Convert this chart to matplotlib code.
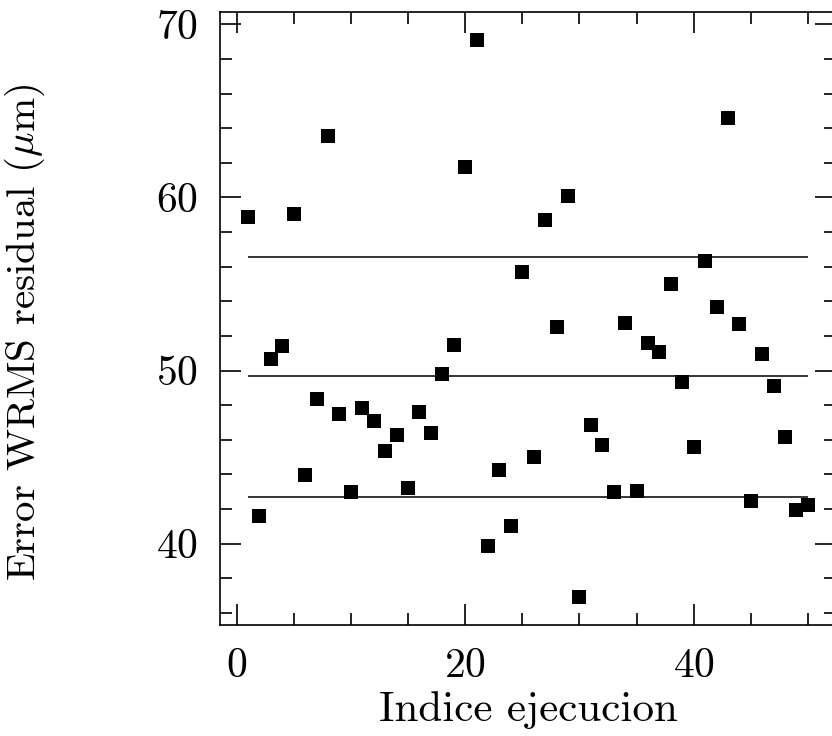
import matplotlib

matplotlib.use("Agg")
import matplotlib.pyplot as plt
from matplotlib.ticker import MultipleLocator

# run index and WRMS residual error per run
run_index = list(range(1, 51))
wrms_error = [
    58.86, 41.59, 50.64, 51.39, 59.07, 43.96, 48.37, 63.53, 47.50, 43.01,
    47.85, 47.08, 45.35, 46.27, 43.21, 47.62, 46.42, 49.79, 51.50, 61.76,
    69.11, 39.88, 44.27, 41.00, 55.67, 45.02, 58.70, 52.50, 60.09, 36.90,
    46.88, 45.69, 43.01, 52.76, 43.05, 51.60, 51.06, 55.02, 49.33, 45.59,
    56.33, 53.66, 64.61, 52.68, 42.48, 50.95, 49.13, 46.15, 41.94, 42.26,
]
# mean and +/- 1 sigma reference lines
ref_levels = [42.69, 49.68, 56.55]
ref_span = (1, 50)

plt.rcParams["font.family"] = ["cmr10", "DejaVu Serif"]
plt.rcParams["mathtext.fontset"] = "cm"
plt.rcParams["axes.formatter.use_mathtext"] = True

fig = plt.figure(figsize=(8.32, 7.36), dpi=100)
ax = fig.add_axes([0.2644, 0.1508, 0.741, 0.8329])

ax.plot(run_index, wrms_error, linestyle="none", marker="s",
        markersize=9.4, markeredgewidth=0, color="black")
ax.hlines(ref_levels, ref_span[0], ref_span[1], colors="black", linewidth=1.1)

ax.set_xlim(-1.45, 52.5)
ax.set_ylim(35.3, 70.71)
ax.xaxis.set_major_locator(MultipleLocator(20))
ax.xaxis.set_minor_locator(MultipleLocator(5))
ax.yaxis.set_major_locator(MultipleLocator(10))
ax.yaxis.set_minor_locator(MultipleLocator(2))

ax.tick_params(which="both", direction="in", top=True, right=True,
               width=1.2, labelsize=30, pad=16)
ax.tick_params(which="major", length=15)
ax.tick_params(which="minor", length=8.5)
for sp in ax.spines.values():
    sp.set_linewidth(1.2)

ax.set_xlabel("Indice ejecucion", fontsize=31)
ax.set_ylabel(r"Error WRMS residual ($\mu$m)", fontsize=29.5)
ax.xaxis.set_label_coords(0.5, -0.108)
ax.yaxis.set_label_coords(-0.281, 0.478)

fig.savefig("out.png", dpi=100)
